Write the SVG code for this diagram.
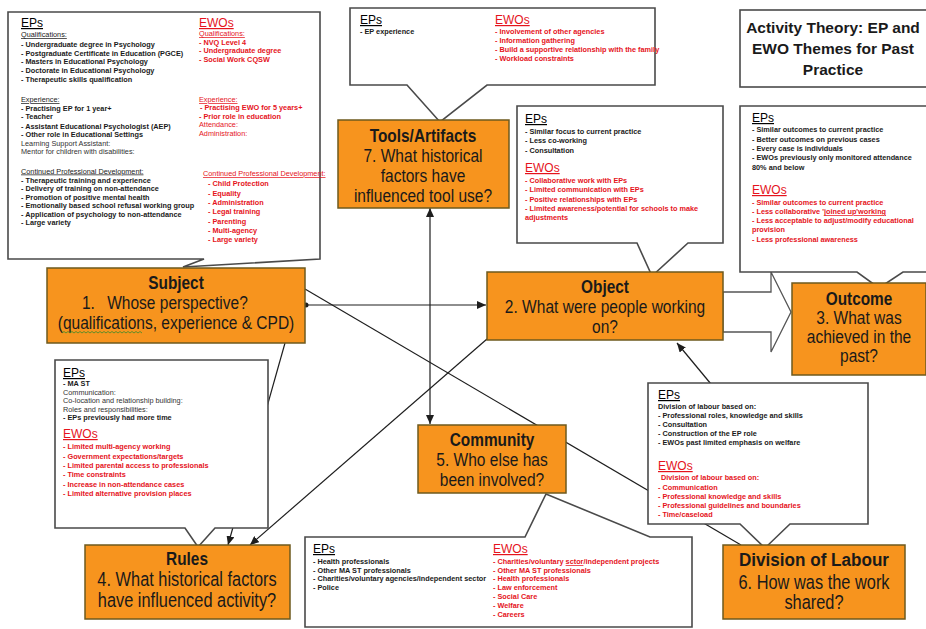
<svg xmlns="http://www.w3.org/2000/svg" width="926" height="629" viewBox="0 0 926 629">
<style>
.bg{fill:#fff}
.call{fill:#fff;stroke:#4a4a4a;stroke-width:1.6;stroke-linejoin:miter}
.box{fill:#F7941E;stroke:#6e5a1e;stroke-width:1.5}
.ln{stroke:#1e1e1e;stroke-width:1.2;fill:none}
.h{font-family:"Liberation Sans",Arial,sans-serif;font-size:12px;text-decoration:underline}
.t{font-family:"Liberation Sans",Arial,sans-serif;font-size:7.3px;font-weight:bold;fill:#1a1a1a}
.n{font-family:"Liberation Sans",Arial,sans-serif;font-size:7.3px;fill:#333}
.u{text-decoration:underline;font-weight:normal}
.r{fill:#e5131c}
.ti{font-family:"Liberation Sans",Arial,sans-serif;font-size:17.5px;font-weight:bold;fill:#1a1a1a;text-anchor:middle}
.st{font-family:"Liberation Sans",Arial,sans-serif;font-size:18.5px;fill:#1a1a1a;text-anchor:middle}
.big{font-size:19.5px}
.title{font-family:"Liberation Sans",Arial,sans-serif;font-size:15.5px;font-weight:bold;fill:#1a1a1a;text-anchor:middle}
</style>
<defs>
<marker id="ah" markerUnits="userSpaceOnUse" markerWidth="9" markerHeight="8" refX="9" refY="4" orient="auto-start-reverse">
<path d="M0,0 L9,4 L0,8 z" fill="#1e1e1e"/>
</marker>
</defs>
<rect class="bg" x="0" y="0" width="926" height="629"/>

<g id="connectors">
<polygon points="723,292 771,292 771,272 791,312 771,352 771,332 723,332" fill="#fff" stroke="#555" stroke-width="1.3"/>
<path class="ln" d="M306,305 H486" marker-end="url(#ah)"/>
<circle cx="306" cy="305" r="2.5" fill="#1e1e1e"/>
<path class="ln" d="M305,289 L741,545"/>
<path class="ln" d="M487,339 L250,545" marker-end="url(#ah)"/>
<path class="ln" d="M285,343 L228,545" marker-end="url(#ah)"/>
<path class="ln" d="M430,208 V424" marker-start="url(#ah)" marker-end="url(#ah)"/>
<path class="ln" d="M730,407 L677,343" marker-end="url(#ah)"/>
</g>

<g id="callout-subject">
<path class="call" d="M8,12 H320 V259 L183,267 L204,259 H8 Z"/>
<text class="h" x="21" y="27">EPs</text>
<text class="t u" x="21" y="37">Qualifications:</text>
<text class="t" x="21" y="47">- Undergraduate degree in Psychology</text>
<text class="t" x="21" y="55.5">- Postgraduate Certificate in Education (PGCE)</text>
<text class="t" x="21" y="64">- Masters in Educational Psychology</text>
<text class="t" x="21" y="72.5">- Doctorate in Educational Psychology</text>
<text class="t" x="21" y="81.5">- Therapeutic skills  qualification</text>
<text class="t u" x="21" y="102">Experience:</text>
<text class="t" x="21" y="110.5">- Practising  EP for 1 year+</text>
<text class="t" x="21" y="119">- Teacher</text>
<text class="t" x="21" y="128.5">- Assistant Educational Psychologist (AEP)</text>
<text class="t" x="21" y="137">- Other role in Educational Settings</text>
<text class="n" x="21" y="145.5">Learning Support  Assistant:</text>
<text class="n" x="21" y="154">Mentor for children with disabilities:</text>
<text class="t u" x="21" y="173.5">Continued Professional  Development:</text>
<text class="t" x="21" y="182.5">- Therapeutic training and experience</text>
<text class="t" x="21" y="191">- Delivery of training on non-attendance</text>
<text class="t" x="21" y="199.5">- Promotion of positive mental health</text>
<text class="t" x="21" y="208">- Emotionally based  school refusal working group</text>
<text class="t" x="21" y="216.5">- Application of psychology to non-attendance</text>
<text class="t" x="21" y="225">- Large variety</text>
<text class="h r" x="199" y="27">EWOs</text>
<text class="t u r" x="199" y="36">Qualifications:</text>
<text class="t r" x="199" y="44.5">- NVQ Level 4</text>
<text class="t r" x="199" y="53">- Undergraduate degree</text>
<text class="t r" x="199" y="61.5">- Social  Work CQSW</text>
<text class="t u r" x="199" y="102">Experience:</text>
<text class="t r" x="200" y="110">- Practising  EWO for 5 years+</text>
<text class="t r" x="199" y="118.5">- Prior role in education</text>
<text class="n r" x="199" y="127">Attendance:</text>
<text class="n r" x="199" y="135.5">Administration:</text>
<text class="t u r" x="203" y="176">Continued Professional  Development:</text>
<text class="t r" x="208" y="186">- Child Protection</text>
<text class="t r" x="208" y="195.5">- Equality</text>
<text class="t r" x="208" y="205">- Administration</text>
<text class="t r" x="208" y="214">- Legal training</text>
<text class="t r" x="208" y="223.5">- Parenting</text>
<text class="t r" x="208" y="232.5">- Multi-agency</text>
<text class="t r" x="208" y="242">- Large variety</text>
</g>

<g id="callout-tools">
<path class="call" d="M350,8 H655 V85 H487 L440,122 L407,85 H350 Z"/>
<text class="h" x="360" y="24">EPs</text>
<text class="t" x="360" y="34">- EP experience</text>
<text class="h r" x="495" y="24">EWOs</text>
<text class="t r" x="495" y="34">- Involvement  of other agencies</text>
<text class="t r" x="495" y="43">- Information gathering</text>
<text class="t r" x="495" y="52">- Build a supportive relationship  with the family</text>
<text class="t r" x="495" y="61">- Workload constraints</text>
</g>

<g id="callout-object">
<path class="call" d="M517,106 H723 V243 H688 L652,276 L637,243 H517 Z"/>
<text class="h" x="525" y="123">EPs</text>
<text class="t" x="525" y="133.5">- Similar  focus to current practice</text>
<text class="t" x="525" y="143">- Less co-working</text>
<text class="t" x="525" y="152.5">- Consultation</text>
<text class="h r" x="525" y="172">EWOs</text>
<text class="t r" x="525" y="183">- Collaborative work with EPs</text>
<text class="t r" x="525" y="192">- Limited communication with EPs</text>
<text class="t r" x="525" y="201.5">- Positive relationships with EPs</text>
<text class="t r" x="525" y="210.5">- Limited awareness/potential  for schools  to make</text>
<text class="t r" x="525" y="219.5">adjustments</text>
</g>

<g id="title">
<rect class="call" x="740" y="10" width="190" height="77"/>
<text class="title" x="833" y="33">Activity Theory: EP and</text>
<text class="title" x="833" y="54">EWO Themes for Past</text>
<text class="title" x="833" y="75">Practice</text>
</g>

<g id="callout-outcome">
<path class="call" d="M740,106 H930 V272 H903 L879,288 L857,272 H740 Z"/>
<text class="h" x="752" y="122">EPs</text>
<text class="t" x="752" y="132">- Similar  outcomes to current practice</text>
<text class="t" x="752" y="141.5">- Better outcomes on previous  cases</text>
<text class="t" x="752" y="150.5">- Every case is individuals</text>
<text class="t" x="752" y="160">- EWOs previously  only monitored attendance</text>
<text class="t" x="752" y="169.5">80% and below</text>
<text class="h r" x="752" y="194">EWOs</text>
<text class="t r" x="752" y="204.5">- Similar  outcomes to current practice</text>
<text class="t r" x="752" y="214">- Less collaborative  '<tspan text-decoration="underline">joined up'working</tspan></text>
<text class="t r" x="752" y="223">- Less acceptable  to adjust/modify educational</text>
<text class="t r" x="752" y="232">provision</text>
<text class="t r" x="752" y="241.5">- Less professional  awareness</text>
</g>

<g id="callout-rules">
<path class="call" d="M55,360 H268 V528 H215 L198,547 L185,528 H55 Z"/>
<text class="h" x="63" y="377">EPs</text>
<text class="t" x="63" y="386">- MA ST</text>
<text class="n" x="63" y="394.5">Communication:</text>
<text class="n" x="63" y="403">Co-location  and relationship building:</text>
<text class="n" x="63" y="411.5">Roles and responsibilities:</text>
<text class="t" x="63" y="420">- EPs previously  had more time</text>
<text class="h r" x="63" y="438">EWOs</text>
<text class="t r" x="63" y="449">- Limited multi-agency working</text>
<text class="t r" x="63" y="458.5">- Government expectations/targets</text>
<text class="t r" x="63" y="468">- Limited parental access  to professionals</text>
<text class="t r" x="63" y="477">- Time constraints</text>
<text class="t r" x="63" y="486.5">- Increase  in non-attendance cases</text>
<text class="t r" x="63" y="496">- Limited alternative provision places</text>
</g>

<g id="callout-division">
<path class="call" d="M648,383 H868 V524 H790 L765,548 L740,524 H648 Z"/>
<text class="h" x="658" y="399">EPs</text>
<text class="t" x="658" y="408.5">Division of labour based  on:</text>
<text class="t" x="658" y="418">- Professional  roles,  knowledge and  skills</text>
<text class="t" x="658" y="426.5">- Consultation</text>
<text class="t" x="658" y="435.5">- Construction of the EP role</text>
<text class="t" x="658" y="445">- EWOs past limited emphasis  on welfare</text>
<text class="h r" x="658" y="470">EWOs</text>
<text class="t r" x="661" y="480">Division  of labour based on:</text>
<text class="t r" x="658" y="489.5">- Communication</text>
<text class="t r" x="658" y="499">- Professional  knowledge and skills</text>
<text class="t r" x="658" y="508">- Professional  guidelines  and boundaries</text>
<text class="t r" x="658" y="517">- Time/caseload</text>
</g>

<g id="callout-community">
<path class="call" d="M305,537 H525 L546,494 L650,537 H692 V627 H305 Z"/>
<text class="h" x="313" y="553">EPs</text>
<text class="t" x="313" y="564">- Health  professionals</text>
<text class="t" x="313" y="572.5">- Other MA ST professionals</text>
<text class="t" x="313" y="581">- Charities/voluntary  agencies/independent  sector</text>
<text class="t" x="313" y="589.5">- Police</text>
<text class="h r" x="493" y="553">EWOs</text>
<text class="t r" x="493" y="564">- Charities/voluntary  <tspan text-decoration="underline">sctor</tspan>/independent  projects</text>
<text class="t r" x="493" y="572.5">- Other MA ST professionals</text>
<text class="t r" x="493" y="581">- Health professionals</text>
<text class="t r" x="493" y="589.5">- Law enforcement</text>
<text class="t r" x="493" y="598.5">- Social  Care</text>
<text class="t r" x="493" y="607.5">- Welfare</text>
<text class="t r" x="493" y="616.5">- Careers</text>
</g>

<g id="subject">
<rect class="box" x="47" y="268" width="258" height="75"/>
<text class="ti" transform="translate(176,289) scale(0.88,1)">Subject</text>
<text class="st" transform="translate(176,309) scale(0.84,1)" style="text-anchor:start"><tspan x="-112">1.</tspan><tspan x="-82">Whose perspective?</tspan></text>
<text class="st" transform="translate(176,329) scale(0.84,1)">(qualifications, experience &amp; CPD)</text>
<path d="M62,333 l2,-1.5 l2,1.5 l2,-1.5 l2,1.5 l2,-1.5 l2,1.5 l2,-1.5 l2,1.5 l2,-1.5 l2,1.5 l2,-1.5 l2,1.5 l2,-1.5 l2,1.5 l2,-1.5 l2,1.5 l2,-1.5 l2,1.5 l2,-1.5 l2,1.5 l2,-1.5 l2,1.5 l2,-1.5 l2,1.5 l2,-1.5 l2,1.5 l2,-1.5 l2,1.5 l2,-1.5 l2,1.5 l2,-1.5 l2,1.5 l2,-1.5 l2,1.5 l2,-1.5 l2,1.5 l2,-1.5 l2,1.5 l2,-1.5 l2,1.5" fill="none" stroke="#3a8a2a" stroke-width="0.8"/>
</g>

<g id="tools">
<rect class="box" x="338" y="120" width="171" height="88"/>
<text class="ti" transform="translate(423,142) scale(0.88,1)">Tools/Artifacts</text>
<text class="st" transform="translate(423,162) scale(0.84,1)">7. What historical</text>
<text class="st" transform="translate(423,182) scale(0.84,1)">factors have</text>
<text class="st" transform="translate(423,202) scale(0.84,1)">influenced tool use?</text>
</g>

<g id="object">
<rect class="box" x="487" y="272" width="236" height="68"/>
<text class="ti" transform="translate(605,293) scale(0.88,1)">Object</text>
<text class="st" transform="translate(605,313) scale(0.84,1)">2. What were people working</text>
<text class="st" transform="translate(605,333) scale(0.84,1)">on?</text>
</g>

<g id="outcome">
<rect class="box" x="792" y="283" width="134" height="92"/>
<text class="ti" transform="translate(859,305) scale(0.88,1)">Outcome</text>
<text class="st" transform="translate(859,324) scale(0.84,1)">3. What was</text>
<text class="st" transform="translate(859,343) scale(0.84,1)">achieved in the</text>
<text class="st" transform="translate(859,362) scale(0.84,1)">past?</text>
</g>

<g id="community">
<rect class="box" x="418" y="425" width="148" height="68"/>
<text class="ti" transform="translate(492,446) scale(0.88,1)">Community</text>
<text class="st" transform="translate(492,466) scale(0.84,1)">5. Who else has</text>
<text class="st" transform="translate(492,486) scale(0.84,1)">been involved?</text>
</g>

<g id="rules">
<rect class="box" x="85" y="545" width="205" height="74"/>
<text class="ti" transform="translate(187,565) scale(0.88,1)">Rules</text>
<text class="st big" transform="translate(187,586) scale(0.84,1)">4. What historical factors</text>
<text class="st big" transform="translate(187,607) scale(0.84,1)">have influenced activity?</text>
</g>

<g id="division">
<rect class="box" x="723" y="545" width="182" height="74"/>
<text class="ti" transform="translate(814,566) scale(0.9,1)" style="font-size:19px">Division of Labour</text>
<text class="st big" transform="translate(814,589) scale(0.84,1)">6. How was the work</text>
<text class="st big" transform="translate(814,609) scale(0.84,1)">shared?</text>
</g>
</svg>
